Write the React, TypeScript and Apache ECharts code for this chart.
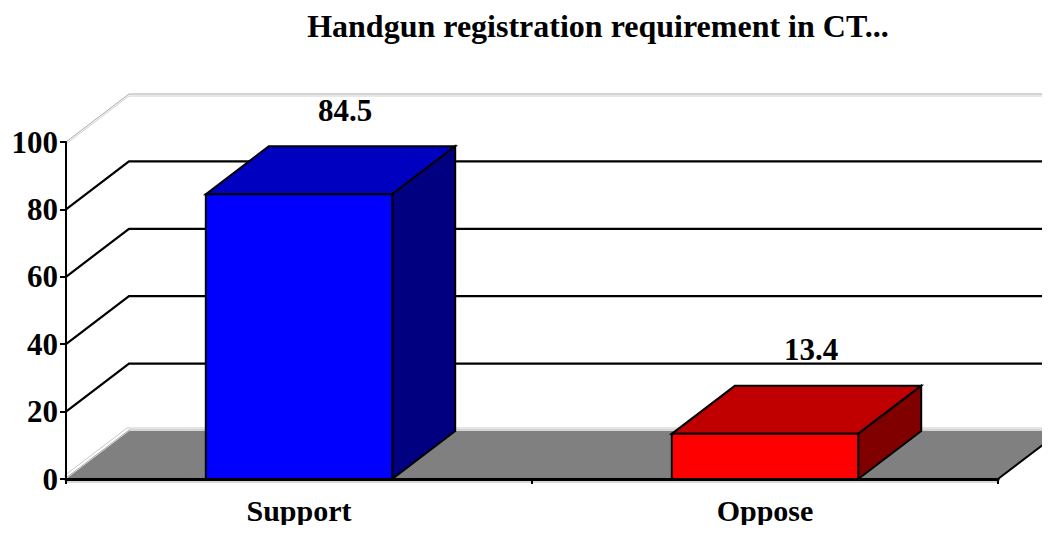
import React, { useEffect, useRef } from "react";
import * as echarts from "echarts";

const titleText = "Handgun registration requirement in CT...";
const categories = ["Support", "Oppose"];
const values = [84.5, 13.4];
const yTicks = [0, 20, 40, 60, 80, 100];
const frontColors = ["#0000FF", "#FF0000"];
const topColors = ["#0000C0", "#C00000"];
const sideColors = ["#000080", "#800000"];

const DX = 63;
const DY = -48;
const FONT = "'Liberation Serif', 'Times New Roman', serif";

export default function App() {
  const ref = useRef<HTMLDivElement>(null);
  useEffect(() => {
    const chart = echarts.init(ref.current!, null, { renderer: "svg" });
    const option: any = {
      animation: false,
      backgroundColor: "#ffffff",
      grid: { left: 66, right: 52, top: 142, bottom: 54, containLabel: false },
      graphic: [
        {
          type: "text",
          x: 598,
          y: 26,
          style: {
            text: titleText,
            align: "center",
            verticalAlign: "middle",
            font: `bold 32px ${FONT}`,
            fill: "#000",
          },
        },
      ],
      xAxis: {
        type: "category",
        data: categories,
        boundaryGap: true,
        axisLine: { show: true, lineStyle: { color: "#000", width: 3 } },
        axisTick: { show: true, length: 5, lineStyle: { color: "#000", width: 2 } },
        axisLabel: {
          color: "#000",
          fontFamily: FONT,
          fontWeight: "bold",
          fontSize: 30,
          margin: 16,
        },
        splitLine: { show: false },
        z: 10,
      },
      yAxis: {
        type: "value",
        min: 0,
        max: 100,
        interval: 20,
        axisLine: { show: true, lineStyle: { color: "#000", width: 2 } },
        axisTick: { show: true, length: 6, lineStyle: { color: "#000", width: 2 } },
        axisLabel: {
          color: "#000",
          fontFamily: FONT,
          fontWeight: "bold",
          fontSize: 31,
          margin: 8,
        },
        splitLine: { show: false },
        z: 10,
      },
      series: [
        {
          type: "custom",
          name: "floor",
          z: 1,
          data: [[0]],
          renderItem: (params: any, api: any) => {
            const p0 = api.coord([0, 0]);
            const cs = params.coordSys;
            const xl = cs.x;
            const xr = cs.x + cs.width;
            const y = p0[1];
            return {
              type: "group",
              children: [
                {
                  type: "polygon",
                  shape: {
                    points: [
                      [xl, y],
                      [xr, y],
                      [xr + DX, y + DY],
                      [xl + DX, y + DY],
                    ],
                  },
                  style: { fill: "#808080", stroke: null },
                },
                {
                  type: "polyline",
                  shape: { points: [[xl, y - 1], [xl + DX, y + DY - 1], [xr + DX + 20, y + DY - 1]] },
                  style: { fill: null, stroke: "#a8a8a8", lineWidth: 1 },
                },
                {
                  type: "polyline",
                  shape: { points: [[xl - 2, y - 3], [xl + DX - 2, y + DY - 3], [xr + DX + 20, y + DY - 3]] },
                  style: { fill: null, stroke: "#c8c8c8", lineWidth: 1 },
                },
                {
                  type: "line",
                  shape: { x1: xr, y1: y, x2: xr + DX, y2: y + DY },
                  style: { stroke: "#000", lineWidth: 2 },
                },
                {
                  type: "line",
                  shape: { x1: xl, y1: y + 3, x2: xr, y2: y + 3 },
                  style: { stroke: "#b0b0b0", lineWidth: 1 },
                },
              ],
            };
          },
        },
        {
          type: "custom",
          name: "walls",
          z: 2,
          data: yTicks.map((t) => [t]),
          renderItem: (params: any, api: any) => {
            const t = api.value(0);
            const cs = params.coordSys;
            const xl = cs.x;
            const p = api.coord([0, t]);
            const y = p[1];
            if (t === 0) return { type: "group", children: [] };
            const edge = t === 100;
            if (edge) {
              return {
                type: "group",
                children: [
                  {
                    type: "polyline",
                    shape: { points: [[xl, y], [xl + DX, y + DY], [1060, y + DY]] },
                    style: { fill: null, stroke: "#a8a8a8", lineWidth: 1 },
                  },
                  {
                    type: "polyline",
                    shape: { points: [[xl, y + 2], [xl + DX, y + DY + 2], [1060, y + DY + 2]] },
                    style: { fill: null, stroke: "#d0d0d0", lineWidth: 1 },
                  },
                ],
              };
            }
            return {
              type: "polyline",
              shape: { points: [[xl, y], [xl + DX, y + DY], [1060, y + DY]] },
              style: { fill: null, stroke: "#000", lineWidth: 2.2 },
            };
          },
        },
        {
          type: "custom",
          name: "bars",
          z: 5,
          data: values.map((v, i) => [i, v]),
          label: { show: false },
          renderItem: (params: any, api: any) => {
            const i = api.value(0);
            const v = api.value(1);
            const top = api.coord([i, v]);
            const base = api.coord([i, 0]);
            const bw = api.size([1, 0])[0] * 0.4;
            const x1 = top[0] - bw / 2;
            const x2 = top[0] + bw / 2;
            const yt = top[1];
            const yb = base[1];
            const stroke = { stroke: "#000", lineWidth: 2, lineJoin: "miter" };
            return {
              type: "group",
              children: [
                {
                  type: "polygon",
                  shape: { points: [[x1, yt], [x2, yt], [x2 + DX, yt + DY], [x1 + DX, yt + DY]] },
                  style: { fill: topColors[i], ...stroke },
                },
                {
                  type: "polygon",
                  shape: { points: [[x2, yt], [x2 + DX, yt + DY], [x2 + DX, yb + DY], [x2, yb]] },
                  style: { fill: sideColors[i], ...stroke },
                },
                {
                  type: "rect",
                  shape: { x: x1, y: yt, width: bw, height: yb - yt },
                  style: { fill: frontColors[i], ...stroke },
                },
                {
                  type: "text",
                  x: top[0] + 46,
                  y: yt - 84,
                  style: {
                    text: String(v),
                    align: "center",
                    verticalAlign: "middle",
                    font: `bold 31px ${FONT}`,
                    fill: "#000",
                  },
                },
              ],
            };
          },
        },
      ],
    };
    chart.setOption(option);
    return () => chart.dispose();
  }, []);
  return <div ref={ref} style={{ width: 1050, height: 533, margin: -8 }} />;
}
